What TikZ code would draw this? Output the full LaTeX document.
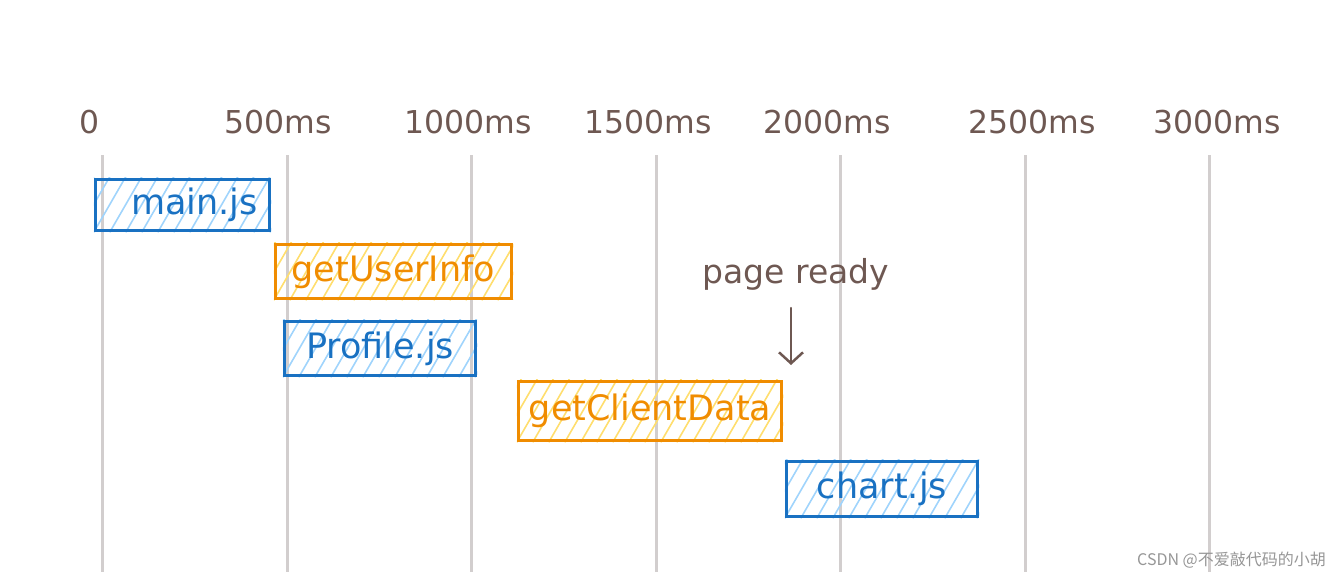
\documentclass[tikz,border=0pt]{standalone}
\usepackage{fontspec}
\setmainfont{DejaVu Sans}
\newfontfamily\cjk{Noto Sans CJK SC}
\usetikzlibrary{backgrounds,arrows.meta}
\definecolor{ink}{RGB}{110,88,82}
\definecolor{bblue}{RGB}{25,113,194}
\definecolor{hblue}{RGB}{160,212,252}
\definecolor{borange}{RGB}{240,140,0}
\definecolor{hyellow}{RGB}{255,222,110}
\definecolor{gridc}{RGB}{210,206,206}
\definecolor{wmark}{RGB}{150,150,150}
\begin{document}
\begin{tikzpicture}[x=1pt,y=-1pt,
  axislabel/.style={text=ink, font=\fontsize{31.5}{38}\selectfont, anchor=base, inner sep=0pt},
  gridline/.style={draw=gridc, line width=3pt},
  taskbox/.style={line width=3.5pt, inner sep=0pt, font=\fontsize{35}{40}\selectfont},
  bluebox/.style={taskbox, draw=bblue, text=bblue},
  orangebox/.style={taskbox, draw=borange, text=borange},
  bluehatch/.style={draw=hblue, line width=1.6pt},
  orangehatch/.style={draw=hyellow, line width=1.6pt},
  arrowline/.style={draw=ink, line width=2.5pt, line cap=round, -{Straight Barb[length=11pt,width=24pt,line width=2.5pt]}}
]
\useasboundingbox (0,0) rectangle (1335,579);
% boxes
\node[bluebox, minimum width=174pt, minimum height=51pt, execute at begin node=\hspace*{24pt}] (main) at (182.5,205) {main.js};
\node[orangebox, minimum width=236pt, minimum height=54pt] (user) at (393.5,271.5) {getUserInfo};
\node[bluebox, minimum width=191pt, minimum height=54pt] (profile) at (380,348.5) {Profile.js};
\node[orangebox, minimum width=263pt, minimum height=59pt] (client) at (650,411) {getClientData};
\node[bluebox, minimum width=191pt, minimum height=55pt] (chart) at (882,489) {chart.js};
\begin{scope}[on background layer]
  % grid lines
  \foreach \gx in {102,287,471,656,840,1025,1209}
    \draw[gridline] (\gx,155) -- (\gx,572);
  % hatching
  \foreach \b/\h in {main/bluehatch, profile/bluehatch, chart/bluehatch, user/orangehatch, client/orangehatch} {
    \begin{scope}
      \clip (\b.south west) rectangle (\b.north east);
      \foreach \i in {-80,-64,...,300}
        \draw[\h] ([xshift=\i pt]\b.south west) -- ++(45,-78);
    \end{scope}
  }
\end{scope}
% axis labels
\node[axislabel] (t0) at (90,133) {0};
\node[axislabel] (t500) at (278,133) {500ms};
\node[axislabel] (t1000) at (468,133) {1000ms};
\node[axislabel] (t1500) at (648,133) {1500ms};
\node[axislabel] (t2000) at (827,133) {2000ms};
\node[axislabel] (t2500) at (1032,133) {2500ms};
\node[axislabel] (t3000) at (1217,133) {3000ms};
% page ready
\node[text=ink, font=\fontsize{33}{40}\selectfont, anchor=base, inner sep=0pt] (ready) at (796,283) {page ready};
\coordinate (arrowstart) at (791,308);
\coordinate (arrowend) at (791,365);
\draw[arrowline] (arrowstart) -- (arrowend);
% watermark
\node[text=wmark, font=\cjk\fontsize{16}{18}\selectfont, anchor=base east, inner sep=0pt] (wm) at (1326,565) {CSDN @不爱敲代码的小胡};
\end{tikzpicture}
\end{document}
